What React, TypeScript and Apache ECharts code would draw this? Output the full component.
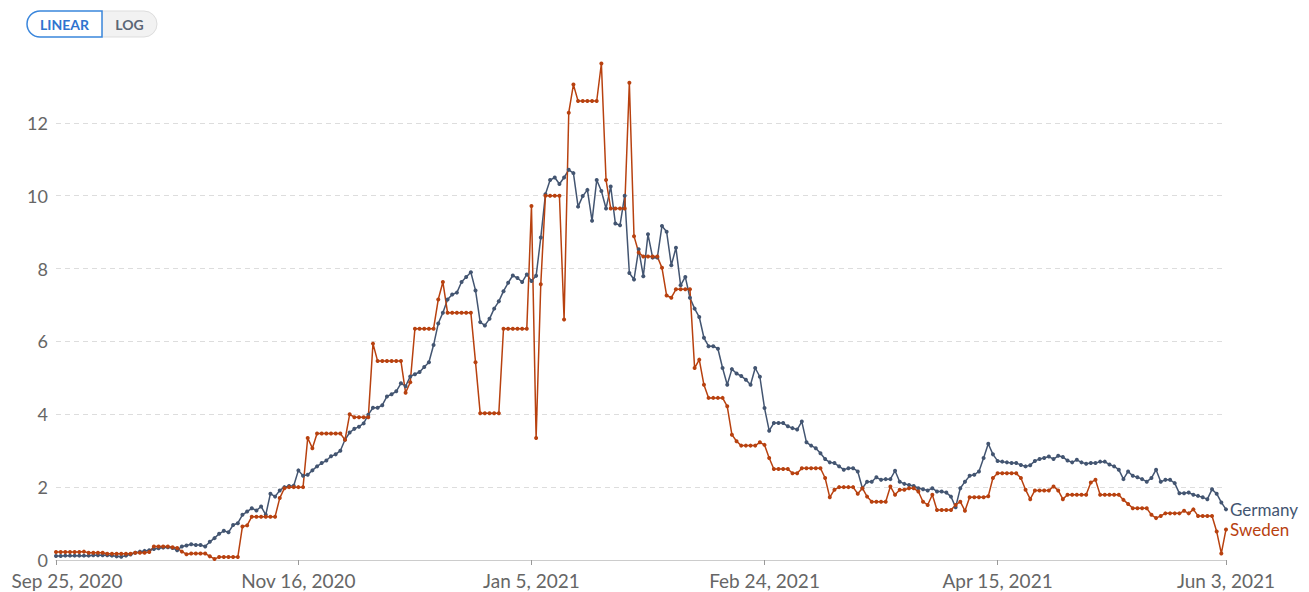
import React, { useEffect, useRef } from "react";
import * as echarts from "echarts";

const startDate = new Date(Date.UTC(2020, 8, 25));
const dayCount = 252;
const monthNames = ["Jan","Feb","Mar","Apr","May","Jun","Jul","Aug","Sep","Oct","Nov","Dec"];
const categories: string[] = [];
for (let i = 0; i < dayCount; i++) {
  const d = new Date(startDate.getTime() + i * 86400000);
  categories.push(`${monthNames[d.getUTCMonth()]} ${d.getUTCDate()}, ${d.getUTCFullYear()}`);
}
const tickLabels = ["Sep 25, 2020", "Nov 16, 2020", "Jan 5, 2021", "Feb 24, 2021", "Apr 15, 2021", "Jun 3, 2021"];
const yTicks = [0, 2, 4, 6, 8, 10, 12];

const germany = [
  0.11,0.11,0.12,0.12,0.12,0.12,0.12,0.12,0.13,0.13,0.13,0.13,0.12,0.1,0.09,0.12,
  0.15,0.2,0.23,0.25,0.27,0.3,0.32,0.34,0.35,0.33,0.27,0.37,0.4,0.43,0.41,0.41,
  0.37,0.5,0.6,0.72,0.8,0.76,0.96,1.01,1.24,1.33,1.42,1.36,1.47,1.24,1.82,1.74,
  1.91,2.0,2.03,2.04,2.46,2.31,2.34,2.46,2.57,2.66,2.73,2.85,2.9,3.0,3.3,3.5,
  3.6,3.66,3.75,3.99,4.18,4.18,4.25,4.49,4.55,4.63,4.85,4.77,5.04,5.1,5.16,5.3,
  5.43,5.9,6.49,6.79,7.15,7.29,7.34,7.63,7.77,7.9,7.4,6.53,6.44,6.62,6.9,7.1,
  7.38,7.61,7.81,7.74,7.63,7.84,7.66,7.8,8.85,10.04,10.43,10.5,10.32,10.5,10.71,10.62,
  9.7,9.99,10.16,9.31,10.43,10.13,9.65,10.25,9.24,9.19,10.0,7.88,7.7,8.53,7.79,8.94,
  8.3,8.3,9.17,9.01,8.09,8.57,7.54,7.77,7.2,6.9,6.67,6.1,5.87,5.87,5.8,5.27,
  4.81,5.24,5.12,5.05,4.95,4.81,5.27,5.03,4.17,3.55,3.76,3.76,3.76,3.67,3.62,3.58,
  3.8,3.23,3.14,3.07,2.93,2.77,2.68,2.66,2.57,2.48,2.52,2.52,2.43,1.97,2.15,2.15,
  2.27,2.2,2.22,2.22,2.45,2.15,2.09,2.06,2.03,1.97,1.94,1.91,1.97,1.88,1.88,1.85,
  1.74,1.45,1.97,2.15,2.31,2.34,2.43,2.8,3.19,2.9,2.72,2.7,2.68,2.66,2.66,2.61,
  2.57,2.6,2.72,2.77,2.8,2.84,2.77,2.86,2.83,2.73,2.68,2.75,2.68,2.64,2.66,2.66,
  2.7,2.7,2.62,2.57,2.48,2.22,2.43,2.31,2.27,2.22,2.15,2.25,2.48,2.15,2.2,2.2,
  2.11,1.83,1.83,1.85,1.79,1.76,1.72,1.67,1.94,1.82,1.58,1.39,
];

const sweden = [
  0.22,0.22,0.22,0.22,0.22,0.22,0.23,0.2,0.2,0.2,0.2,0.17,0.17,0.17,0.17,0.17,
  0.17,0.2,0.2,0.2,0.22,0.37,0.37,0.37,0.37,0.35,0.33,0.23,0.16,0.18,0.18,0.18,
  0.18,0.1,0.03,0.08,0.08,0.08,0.08,0.08,0.92,0.95,1.19,1.19,1.19,1.19,1.19,1.19,
  1.7,1.97,2.0,2.0,2.0,2.0,3.35,3.07,3.47,3.47,3.47,3.47,3.47,3.47,3.3,4.0,
  3.92,3.92,3.92,3.92,5.94,5.46,5.46,5.46,5.46,5.46,5.46,4.59,4.88,6.35,6.35,6.35,
  6.35,6.35,7.15,7.63,6.79,6.79,6.79,6.79,6.79,6.79,5.43,4.03,4.03,4.03,4.03,4.03,
  6.35,6.35,6.35,6.35,6.35,6.35,9.72,3.35,7.57,10.0,10.0,10.0,10.0,6.6,12.28,13.05,
  12.6,12.6,12.6,12.6,12.6,13.63,10.43,9.65,9.65,9.65,9.65,13.1,8.89,8.44,8.33,8.33,
  8.33,8.33,8.02,7.26,7.2,7.43,7.43,7.43,7.43,5.27,5.5,4.81,4.45,4.45,4.45,4.45,
  4.22,3.44,3.26,3.14,3.14,3.14,3.14,3.23,3.16,2.8,2.5,2.5,2.5,2.5,2.38,2.38,
  2.52,2.52,2.52,2.52,2.52,2.25,1.72,1.93,2.0,2.0,2.0,2.0,1.82,1.97,1.74,1.6,
  1.6,1.6,1.6,2.02,1.79,1.93,1.93,1.97,1.97,1.88,1.6,1.51,1.79,1.37,1.37,1.37,
  1.37,1.51,1.6,1.35,1.72,1.72,1.72,1.72,1.75,2.25,2.38,2.38,2.38,2.38,2.38,2.25,
  1.93,1.67,1.91,1.91,1.91,1.91,2.02,1.91,1.67,1.79,1.79,1.79,1.79,1.79,2.13,2.2,
  1.79,1.79,1.79,1.79,1.79,1.65,1.54,1.42,1.42,1.42,1.42,1.24,1.15,1.21,1.28,1.28,
  1.28,1.28,1.35,1.28,1.39,1.21,1.21,1.21,1.21,0.78,0.18,0.84,
];

const GERMANY_COLOR = "#435571";
const SWEDEN_COLOR = "#b8410f";
const FONT = "Lato, 'Noto Sans', sans-serif";

export default function App() {
  const ref = useRef<HTMLDivElement>(null);
  useEffect(() => {
    if (!ref.current) return;
    const chart = echarts.init(ref.current, null, { renderer: "svg" });
    const isTick = (idx: number) => tickLabels.includes(categories[idx]);
    const gridColors = yTicks.map(() => "#dddddd").concat(["rgba(0,0,0,0)"]);
    const mkSeries = (name: string, data: number[], color: string) => ({
      name,
      type: "line",
      data,
      symbol: "circle",
      symbolSize: 4,
      showSymbol: true,
      showAllSymbol: true,
      lineStyle: { color, width: 1.5 },
      itemStyle: { color },
      emphasis: { disabled: true },
      endLabel: {
        show: true,
        formatter: "{a}",
        color,
        fontSize: 17,
        fontFamily: FONT,
        distance: 4,
      },
    });
    chart.setOption({
      animation: false,
      backgroundColor: "#ffffff",
      textStyle: { fontFamily: FONT },
      grid: { left: 56, right: 83, top: 50, bottom: 32, containLabel: false },
      xAxis: {
        type: "category",
        data: categories,
        boundaryGap: false,
        axisLine: { show: true, lineStyle: { color: "#cccccc", width: 1 } },
        axisTick: {
          show: true,
          interval: (idx: number) => isTick(idx),
          length: 5,
          lineStyle: { color: "#999999" },
        },
        axisLabel: {
          interval: (idx: number) => isTick(idx),
          color: "#666666",
          fontSize: 19,
          fontFamily: FONT,
          margin: 11,
          formatter: (v: string, idx: number) => (idx === 0 ? `{first|${v}}` : v),
          rich: {
            first: { padding: [0, 0, 0, 22], fontSize: 19, color: "#666666", fontFamily: FONT },
          },
        },
        splitLine: { show: false },
      },
      yAxis: {
        type: "value",
        min: 0,
        max: 14,
        interval: 2,
        axisLine: { show: false },
        axisTick: { show: false },
        axisLabel: {
          color: "#666666",
          fontSize: 18,
          fontFamily: FONT,
          margin: 8,
          formatter: (v: number) => (yTicks.includes(v) ? String(v) : ""),
        },
        splitLine: { show: true, lineStyle: { color: gridColors, type: [5, 4], width: 1 } },
      },
      series: [mkSeries("Germany", germany, GERMANY_COLOR), mkSeries("Sweden", sweden, SWEDEN_COLOR)],
      graphic: [
        {
          type: "rect",
          shape: { x: 102, y: 11, width: 55, height: 26, r: [0, 13, 13, 0] },
          style: { fill: "#f2f2f2", stroke: "#dddddd", lineWidth: 1 },
        },
        {
          type: "rect",
          shape: { x: 27, y: 11, width: 75, height: 26, r: [13, 0, 0, 13] },
          style: { fill: "#ffffff", stroke: "#3a86dc", lineWidth: 1.5 },
        },
        {
          type: "text",
          x: 64.5,
          y: 24,
          style: { text: "LINEAR", fill: "#2f74cf", font: `bold 14px ${FONT}`, align: "center", verticalAlign: "middle" },
        },
        {
          type: "text",
          x: 129.5,
          y: 24,
          style: { text: "LOG", fill: "#5b6675", font: `bold 14px ${FONT}`, align: "center", verticalAlign: "middle" },
        },
      ],
    });
    return () => chart.dispose();
  }, []);
  return <div ref={ref} style={{ position: "absolute", left: 0, top: 0, width: 1309, height: 592 }} />;
}
